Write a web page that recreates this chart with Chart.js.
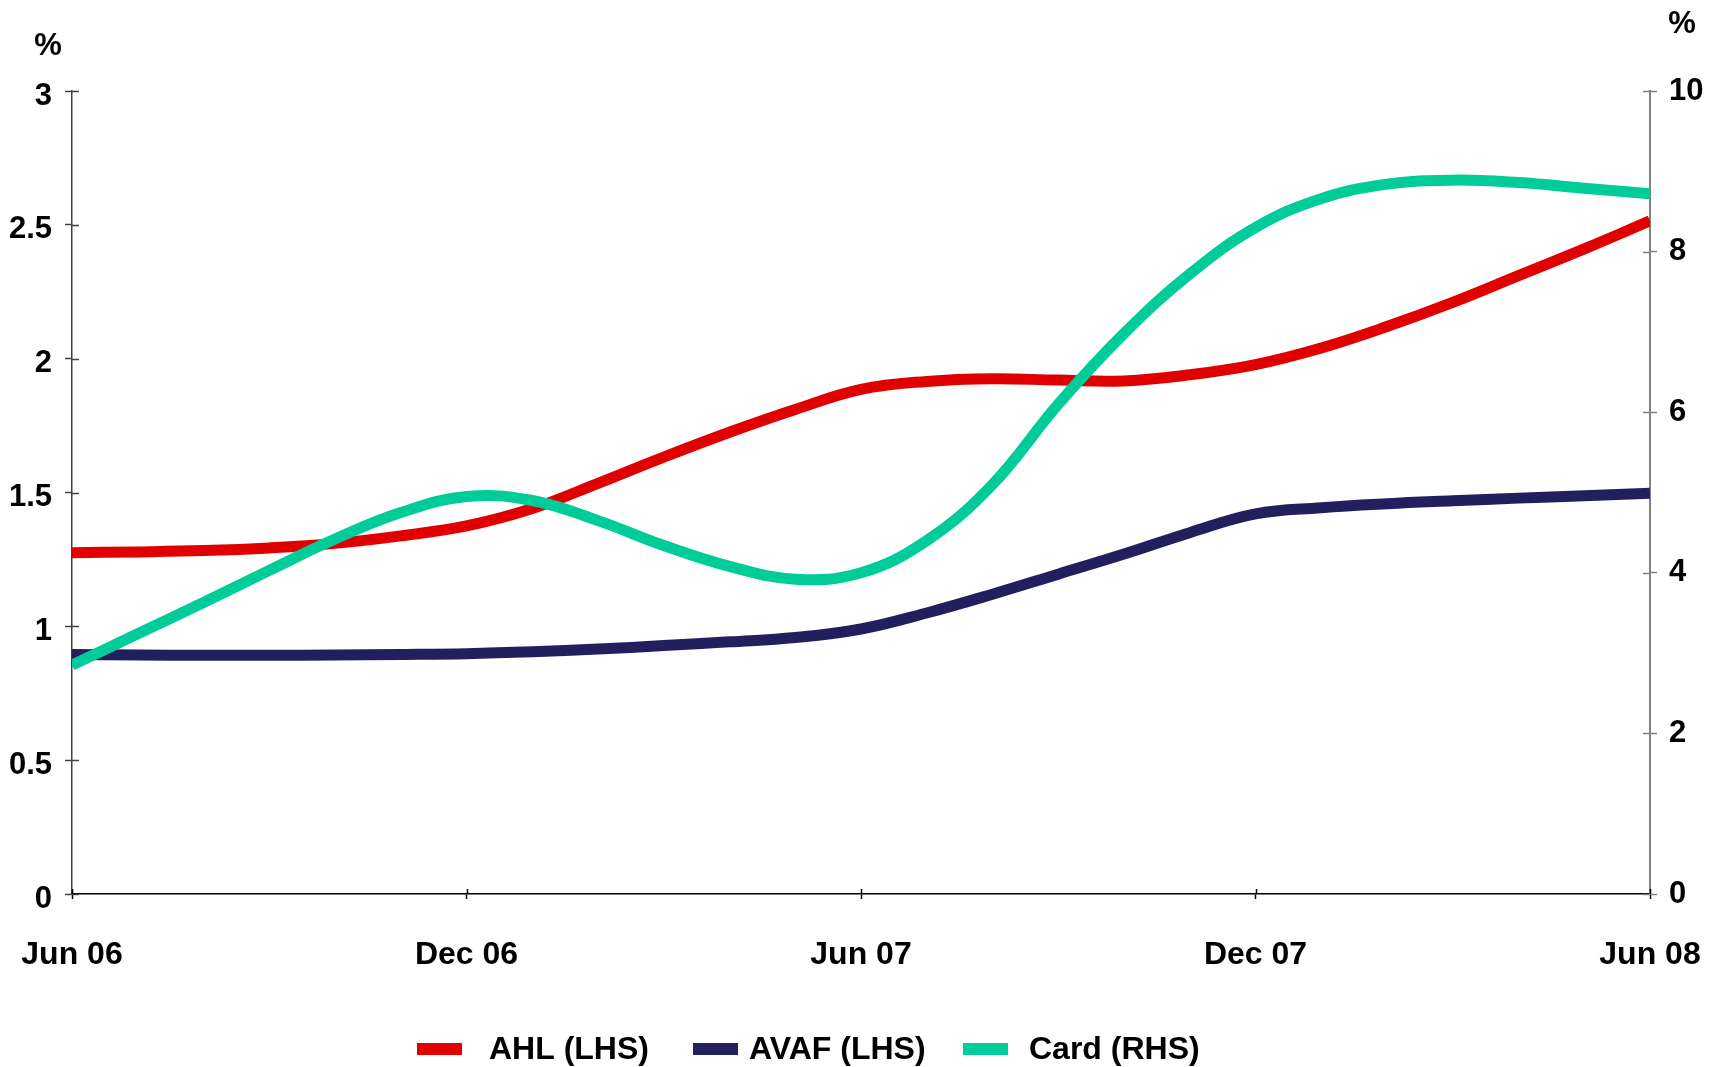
<!DOCTYPE html>
<html>
<head>
<meta charset="utf-8">
<script src="https://cdn.jsdelivr.net/npm/chart.js@4.4.1/dist/chart.umd.min.js"></script>
<style>
  html, body { margin: 0; padding: 0; background: #fff; }
  canvas { display: block; }
</style>
</head>
<body>
<canvas id="arrearsChart" width="1719" height="1067"></canvas>
<script>
// monthly, Jun 06 .. Jun 08
const months = ['Jun 06', 'Jul 06', 'Aug 06', 'Sep 06', 'Oct 06', 'Nov 06', 'Dec 06',
  'Jan 07', 'Feb 07', 'Mar 07', 'Apr 07', 'May 07', 'Jun 07', 'Jul 07', 'Aug 07', 'Sep 07',
  'Oct 07', 'Nov 07', 'Dec 07', 'Jan 08', 'Feb 08', 'Mar 08', 'Apr 08', 'May 08', 'Jun 08'];
const tickLabels = ['Jun 06', 'Dec 06', 'Jun 07', 'Dec 07', 'Jun 08'];

const ahl = [1.275, 1.278, 1.283, 1.293, 1.31, 1.338, 1.375, 1.44, 1.534, 1.632, 1.725, 1.81, 1.885,
  1.915, 1.925, 1.92, 1.917, 1.94, 1.978, 2.04, 2.12, 2.21, 2.31, 2.41, 2.515];
const avaf = [0.895, 0.893, 0.892, 0.892, 0.893, 0.895, 0.898, 0.905, 0.915, 0.928, 0.942, 0.958, 0.99,
  1.05, 1.12, 1.195, 1.27, 1.35, 1.42, 1.443, 1.458, 1.469, 1.479, 1.488, 1.497];
const card = [2.85, 3.24, 3.63, 4.03, 4.42, 4.75, 4.95, 4.90, 4.65, 4.34, 4.08, 3.92, 4.00,
  4.40, 5.10, 6.10, 6.98, 7.72, 8.30, 8.66, 8.84, 8.89, 8.86, 8.79, 8.72];

const seriesNames = ['AHL (LHS)', 'AVAF (LHS)', 'Card (RHS)'];
const seriesColors = ['#e00000', '#231f5e', '#00cc99'];

const FONT = '"Liberation Sans", Arial, sans-serif';
Chart.defaults.font.family = FONT;
Chart.defaults.font.size = 31;
Chart.defaults.font.weight = 'bold';
Chart.defaults.color = '#000';

function points(values) {
  return values.map((v, i) => ({ x: i, y: v }));
}

// legend slots: swatch left edge and text left edge
const legendSwatchX = [417, 693, 963];
const legendTextX = [489, 749, 1029];

// unit labels, tick marks that cross the axes, and the legend row
const extras = {
  id: 'extras',
  afterDraw(chart) {
    const ctx = chart.ctx;
    const area = chart.chartArea;
    const sx = chart.scales.x, sy = chart.scales.y, sy2 = chart.scales.y2;
    ctx.save();

    ctx.lineWidth = 1.5;
    ctx.strokeStyle = '#404040';
    sy.ticks.forEach(t => {
      const y = Math.round(sy.getPixelForValue(t.value)) + 0.5;
      ctx.beginPath(); ctx.moveTo(area.left, y); ctx.lineTo(area.left + 7, y); ctx.stroke();
    });
    ctx.strokeStyle = '#808080';
    sy2.ticks.forEach(t => {
      const y = Math.round(sy2.getPixelForValue(t.value)) + 0.5;
      ctx.beginPath(); ctx.moveTo(area.right - 7, y); ctx.lineTo(area.right, y); ctx.stroke();
    });
    ctx.strokeStyle = '#000';
    sx.ticks.forEach(t => {
      const x = Math.round(sx.getPixelForValue(t.value)) + 0.5;
      ctx.beginPath(); ctx.moveTo(x, area.bottom); ctx.lineTo(x, area.bottom - 5); ctx.stroke();
    });

    ctx.font = 'bold 31px ' + FONT;
    ctx.fillStyle = '#000';
    ctx.textAlign = 'center';
    ctx.textBaseline = 'middle';
    ctx.fillText('%', 48, 46);
    ctx.fillText('%', 1682, 24);

    // legend
    ctx.font = 'bold 32px ' + FONT;
    ctx.textAlign = 'left';
    ctx.textBaseline = 'alphabetic';
    chart.data.datasets.forEach((ds, i) => {
      ctx.fillStyle = ds.borderColor;
      ctx.fillRect(legendSwatchX[i], 1043, 45, 12);
      ctx.fillStyle = '#000';
      ctx.fillText(ds.label, legendTextX[i], 1059);
    });
    ctx.restore();
  }
};

const ctx = document.getElementById('arrearsChart').getContext('2d');
const arrearsChart = new Chart(ctx, {
  type: 'line',
  data: {
    datasets: [
      { label: seriesNames[0], data: points(ahl), borderColor: seriesColors[0], yAxisID: 'y', order: 2 },
      { label: seriesNames[1], data: points(avaf), borderColor: seriesColors[1], yAxisID: 'y', order: 1 },
      { label: seriesNames[2], data: points(card), borderColor: seriesColors[2], yAxisID: 'y2', order: 0 }
    ]
  },
  options: {
    responsive: false,
    animation: false,
    layout: { padding: { top: 91, left: 0, right: 0, bottom: 0 } },
    elements: {
      line: { borderWidth: 11, tension: 0.4, borderCapStyle: 'butt', fill: false },
      point: { radius: 0 }
    },
    plugins: { legend: { display: false }, tooltip: { enabled: false } },
    scales: {
      x: {
        type: 'linear',
        min: 0,
        max: months.length - 1,
        afterBuildTicks: s => { s.ticks = tickLabels.map((_, i) => ({ value: i * 6 })); },
        ticks: { callback: v => tickLabels[v / 6], padding: 37, maxRotation: 0, font: { size: 32 } },
        grid: { drawOnChartArea: false, tickLength: 5, tickColor: '#000', tickWidth: 1.5 },
        border: { color: '#000', width: 1.5 },
        afterFit: s => {
          s.height = 1067 - 894;
          s.paddingLeft = 0;
          s.paddingRight = 0;
        }
      },
      y: {
        position: 'left',
        min: 0,
        max: 3,
        ticks: { stepSize: 0.5, padding: 13, labelOffset: 5, callback: v => String(+v.toFixed(1)) },
        grid: { drawOnChartArea: false, tickLength: 7, tickColor: '#404040', tickWidth: 1.5 },
        border: { color: '#404040', width: 1.5 },
        afterFit: s => { s.width = 72; }
      },
      y2: {
        position: 'right',
        min: 0,
        max: 10,
        ticks: { stepSize: 2, padding: 12 },
        grid: { drawOnChartArea: false, tickLength: 7, tickColor: '#808080', tickWidth: 1.5 },
        border: { color: '#808080', width: 2 },
        afterFit: s => { s.width = 1719 - 1650; }
      }
    }
  },
  plugins: [extras]
});
</script>
</body>
</html>
